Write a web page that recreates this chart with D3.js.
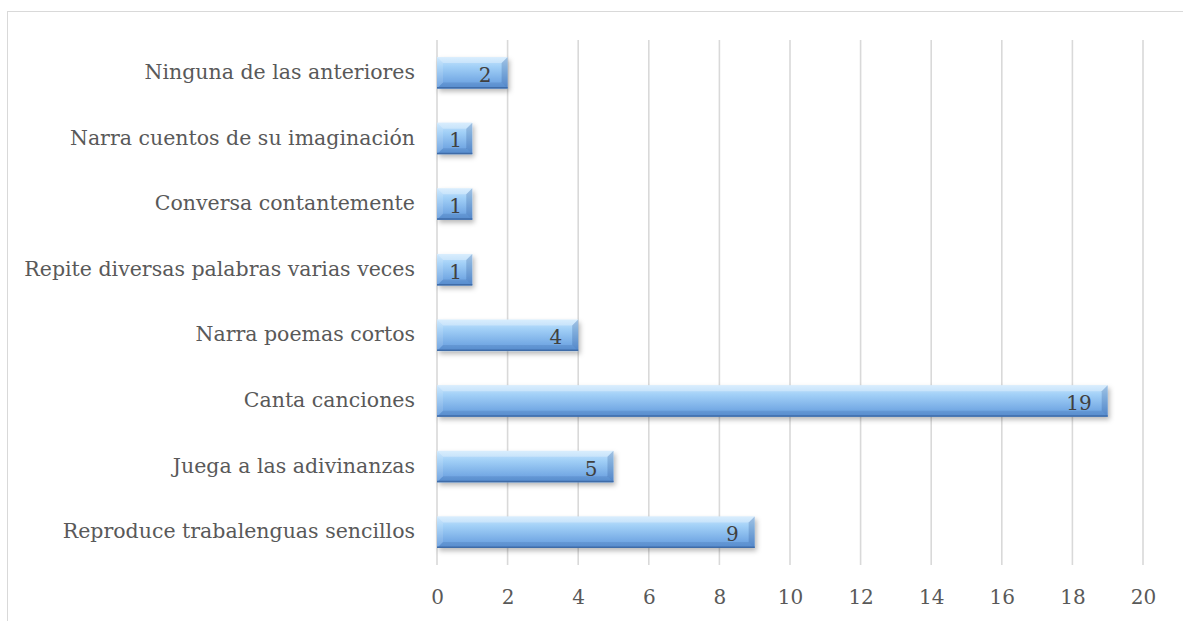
<!DOCTYPE html>
<html><head><meta charset="utf-8">
<script src="https://cdn.jsdelivr.net/npm/d3@7"></script>
<style>body{margin:0;background:#fff;}svg{display:block;}</style>
</head><body>
<svg id="c" width="1183" height="621"></svg>
<script>
const categories = ["Ninguna de las anteriores","Narra cuentos de su imaginación","Conversa contantemente","Repite diversas palabras varias veces","Narra poemas cortos","Canta canciones","Juega a las adivinanzas","Reproduce trabalenguas sencillos"];
const values = [2,1,1,1,4,19,5,9];
const tickValues = [0,2,4,6,8,10,12,14,16,18,20];

const svg = d3.select("#c");
const font = "'DejaVu Serif', 'Liberation Serif', serif";
const defs = svg.append("defs");
const g1 = defs.append("linearGradient").attr("id","barg").attr("x1",0).attr("y1",0).attr("x2",0).attr("y2",1);
g1.append("stop").attr("offset","0%").attr("stop-color","#c9e6fd");
g1.append("stop").attr("offset","30%").attr("stop-color","#a2d0f7");
g1.append("stop").attr("offset","100%").attr("stop-color","#6098dc");
const f = defs.append("filter").attr("id","sh").attr("x","-10%").attr("y","-30%").attr("width","130%").attr("height","190%");
f.append("feDropShadow").attr("dx",2).attr("dy",3).attr("stdDeviation",2.5).attr("flood-color","#000").attr("flood-opacity",0.28);

// border
svg.append("rect").attr("x",7.5).attr("y",11.5).attr("width",1200).attr("height",700)
  .attr("fill","none").attr("stroke","#d9d9d9").attr("stroke-width",1);

const x = d3.scaleLinear().domain([0,20]).range([437,1143]);
const y = d3.scaleBand().domain(categories).range([40,565]).paddingInner(0.52).paddingOuter(0.26);

// gridlines
svg.append("g").selectAll("line").data(tickValues).join("line")
  .attr("x1",d=>x(d)).attr("x2",d=>x(d)).attr("y1",40).attr("y2",565)
  .attr("stroke","#d9d9d9").attr("stroke-width",1.6);

// x axis labels
const xa = svg.append("g").attr("transform","translate(0,597)")
  .call(d3.axisBottom(x).tickValues(tickValues).tickSize(0).tickPadding(0).tickFormat(d3.format("d")));
xa.select(".domain").remove();
xa.selectAll("text").attr("font-family",font).attr("font-size",20).attr("fill","#595959").attr("dy","0.35em");

// y axis labels
const ya = svg.append("g").attr("transform","translate(415,0)")
  .call(d3.axisLeft(y).tickSize(0).tickPadding(0));
ya.select(".domain").remove();
ya.selectAll("text").attr("font-family",font).attr("font-size",20.5).attr("fill","#595959").attr("dy","0.3em");

// bars
const bars = svg.append("g").selectAll("g").data(categories.map((c,i)=>({c,v:values[i]}))).join("g");
bars.each(function(d){
  const gg = d3.select(this);
  const x0 = x(0), x1 = x(d.v), y0 = y(d.c), y1 = y(d.c)+y.bandwidth();
  const b = Math.min(6, (x1-x0)/2);
  gg.append("rect").attr("x",x0).attr("y",y0).attr("width",x1-x0).attr("height",y1-y0)
    .attr("fill","url(#barg)").attr("filter","url(#sh)");
  const poly = (pts,fill)=>gg.append("polygon").attr("points",pts.map(p=>p.join(",")).join(" ")).attr("fill",fill);
  poly([[x0,y0],[x1,y0],[x1-b,y0+b],[x0+b,y0+b]],"rgba(255,255,255,0.3)");
  poly([[x0,y1],[x1,y1],[x1-b,y1-b],[x0+b,y1-b]],"rgba(30,70,130,0.15)");
  poly([[x0,y0],[x0+b,y0+b],[x0+b,y1-b],[x0,y1]],"rgba(255,255,255,0.12)");
  poly([[x1,y0],[x1-b,y0+b],[x1-b,y1-b],[x1,y1]],"rgba(30,70,130,0.22)");
  gg.append("line").attr("x1",x0).attr("x2",x1).attr("y1",y1-0.75).attr("y2",y1-0.75).attr("stroke","#3f6ca8").attr("stroke-width",1.5);
  const t = gg.append("text").text(d.v).attr("font-family",font).attr("font-size",20).attr("fill","#404040")
    .attr("text-anchor","end").attr("y",(y0+y1)/2).attr("dy","0.45em");
  const w = t.node().getComputedTextLength();
  t.attr("x", Math.max(x1-16, (x0+x1)/2 + w/2 + 1));
});
</script>
</body></html>
